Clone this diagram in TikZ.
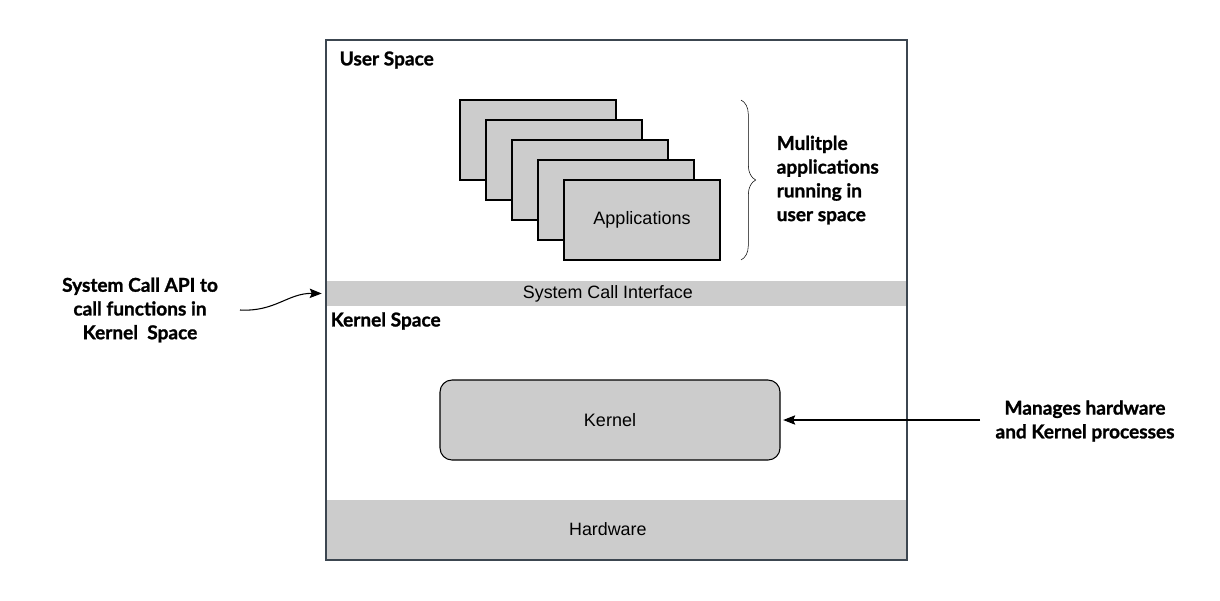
\documentclass[tikz,border=0pt]{standalone}
\usepackage{fontspec}
\setmainfont{Liberation Sans}
\newfontfamily\labfont{Lato}[BoldFeatures={FakeBold=1.2}]
\usetikzlibrary{arrows.meta, decorations.pathreplacing}
\definecolor{boxgray}{HTML}{CCCCCC}
\definecolor{frame}{HTML}{3C4650}

\begin{document}
\begin{tikzpicture}[x=0.75pt, y=-0.75pt, >={Stealth[length=9pt, width=7pt, inset=1.5pt]},
			bar/.style={fill=boxgray, inner sep=0pt, minimum width=435.75pt, font=\fontsize{13.4}{15}\selectfont},
			appbox/.style={draw, fill=boxgray, thick, minimum width=117pt, minimum height=60pt, inner sep=0pt, font=\fontsize{13.5}{15}\selectfont},
			side/.style={font=\labfont\bfseries\fontsize{14.3}{17.8}\selectfont, align=center},
			lab/.style={font=\labfont\bfseries\fontsize{14.3}{16}\selectfont, anchor=west}]
			
			\useasboundingbox (0,0) rectangle (1220,600);
			
			% Rahmen und Schichten
			\node[bar, minimum height=18.75pt] (sci) at (616.5,293.5) {\hspace*{-13pt}System Call Interface};
			\node[bar, minimum height=45pt] (hw) at (616.5,530) {\hspace*{-13pt}\raisebox{2pt}{Hardware}};
			\draw[frame, thick] (326,40) rectangle (907,560);
			
			\node[lab] (user) at (335,60) {User Space};
			\node[lab] (kspace) at (326,321) {Kernel Space};
			
			% Anwendungen, gestapelt
			\foreach \i in {0,...,3}
				\node[appbox] (app\i) at (538+26*\i,140+20*\i) {};
			\node[appbox] (app4) at (642,220) {Applications};
			
			\draw[decorate, decoration={brace, amplitude=11pt}, thin]
				(741,100) -- (741,260);
			\node[side, align=left, anchor=west] (multi) at (772,180) {Mulitple\\applications\\running in\\user space};
			
			% Kernel
			\node[draw, fill=boxgray, thick, rounded corners=9pt, minimum width=255pt, minimum height=60pt,
				font=\fontsize{13.5}{15}\selectfont] (kern) at (610,420) {Kernel};
			
			% Beschriftungen links und rechts
			\node[side] (api) at (140,310) {System Call API to\\call functions in\\Kernel\ \ Space};
			\node[side] (mgr) at (1085,421) {Manages hardware\\and Kernel processes};
			
			\coordinate (apiend) at (240,310);
			\coordinate (mgrend) at (980,420);
			
			\draw[->, thick] (apiend) .. controls (275,312) and (288,293) .. ([xshift=-3pt]sci.west);
			\draw[->, thick] (mgrend) -- ([xshift=2pt]kern.east);
			
		\end{tikzpicture}
\end{document}
